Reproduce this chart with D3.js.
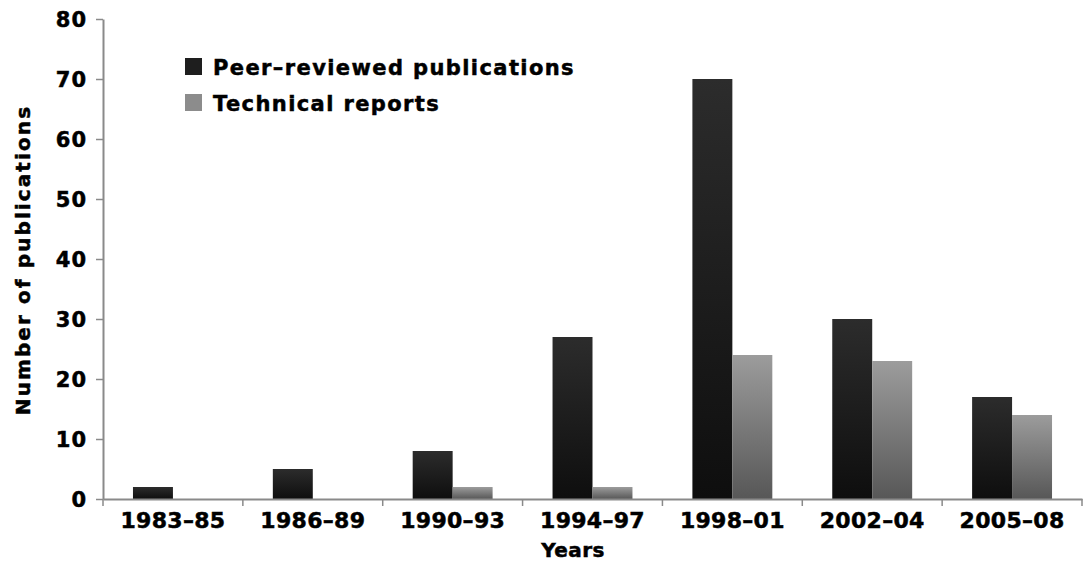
<!DOCTYPE html>
<html>
<head>
<meta charset="utf-8">
<script src="https://cdn.jsdelivr.net/npm/d3@7"></script>
<style>
  html, body { margin: 0; padding: 0; background: #fff; }
  svg { display: block; font-family: "DejaVu Sans", sans-serif; font-weight: bold; }
  svg text { stroke: #000; stroke-width: 0.5px; paint-order: stroke; }
</style>
</head>
<body>
<div id="chart"></div>
<script>
const periods = ["1983–85", "1986–89", "1990–93", "1994–97", "1998–01", "2002–04", "2005–08"];
const seriesNames = ["Peer–reviewed publications", "Technical reports"];
const peerReviewed = [2, 5, 8, 27, 70, 30, 17];
const technicalReports = [0, 0, 2, 2, 24, 23, 14];
const yTicks = [0, 10, 20, 30, 40, 50, 60, 70, 80];

const width = 1085, height = 561;
const margin = { top: 19, right: 3, bottom: 62, left: 103 };
const innerW = width - margin.left - margin.right;
const innerH = height - margin.top - margin.bottom;

const svg = d3.select("#chart").append("svg")
    .attr("width", width)
    .attr("height", height);

// vertical gradients for the bars
const defs = svg.append("defs");
const gradients = [
    { id: "gradDark", top: "#2c2c2c", bottom: "#0e0e0e" },
    { id: "gradGray", top: "#9c9c9c", bottom: "#575757" }
];
gradients.forEach(g => {
    const lg = defs.append("linearGradient")
        .attr("id", g.id)
        .attr("x1", 0).attr("y1", 0).attr("x2", 0).attr("y2", 1);
    lg.append("stop").attr("offset", "0%").attr("stop-color", g.top);
    lg.append("stop").attr("offset", "100%").attr("stop-color", g.bottom);
});

const g = svg.append("g").attr("transform", `translate(${margin.left},${margin.top})`);

const x0 = d3.scaleBand().domain(periods).range([0, innerW]).padding(0);
const x1 = d3.scaleBand().domain(seriesNames).range([0, x0.bandwidth()]).paddingInner(0).paddingOuter(0.75);
const y = d3.scaleLinear().domain([0, 80]).range([innerH, 0]);
const fill = d3.scaleOrdinal().domain(seriesNames).range(["url(#gradDark)", "url(#gradGray)"]);

const rows = periods.map((p, i) => ({
    period: p,
    values: [
        { key: seriesNames[0], value: peerReviewed[i] },
        { key: seriesNames[1], value: technicalReports[i] }
    ]
}));

// bars
g.selectAll("g.group")
    .data(rows)
    .enter().append("g")
    .attr("class", "group")
    .attr("transform", d => `translate(${x0(d.period)},0)`)
    .selectAll("rect")
    .data(d => d.values.filter(v => v.value > 0))
    .enter().append("rect")
    .attr("x", d => x1(d.key))
    .attr("width", x1.bandwidth())
    .attr("y", d => y(d.value))
    .attr("height", d => y(0) - y(d.value))
    .attr("fill", d => fill(d.key));

// y axis
const yAxis = g.append("g")
    .call(d3.axisLeft(y).tickValues(yTicks).tickSize(7).tickSizeOuter(0).tickPadding(9));
yAxis.select(".domain").attr("stroke", "#8a8a8a").attr("stroke-width", 2);
yAxis.selectAll(".tick line").attr("stroke", "#8a8a8a").attr("stroke-width", 1.5);
yAxis.selectAll(".tick text")
    .attr("fill", "#000")
    .style("font-family", "'DejaVu Sans', sans-serif")
    .style("font-weight", "bold")
    .style("font-size", "21px")
    .style("letter-spacing", "1px")
    .attr("dy", "0.36em");

// x axis: labels at band centres, ticks at band edges
const xAxis = g.append("g")
    .attr("transform", `translate(0,${innerH})`)
    .call(d3.axisBottom(x0).tickSize(0).tickSizeOuter(0));
xAxis.select(".domain").attr("stroke", "#8a8a8a").attr("stroke-width", 2);
xAxis.selectAll(".tick text")
    .attr("fill", "#000")
    .attr("y", 29)
    .attr("dy", 0)
    .style("font-family", "'DejaVu Sans', sans-serif")
    .style("font-weight", "bold")
    .style("font-size", "22px")
    .style("letter-spacing", "0.3px");

const edges = periods.map(p => x0(p)).concat([x0.range()[1]]);
xAxis.selectAll("line.edge")
    .data(edges)
    .enter().append("line")
    .attr("class", "edge")
    .attr("x1", d => d).attr("x2", d => d)
    .attr("y1", 0).attr("y2", 7)
    .attr("stroke", "#8a8a8a")
    .attr("stroke-width", 1.5);

// axis titles
svg.append("text")
    .attr("x", 573)
    .attr("y", 557)
    .attr("text-anchor", "middle")
    .style("font-size", "20px")
    .style("letter-spacing", "0.4px")
    .text("Years");

svg.append("text")
    .attr("transform", "translate(30,260) rotate(-90)")
    .attr("text-anchor", "middle")
    .style("font-size", "20px")
    .style("letter-spacing", "2.1px")
    .text("Number of publications");

// legend
const legendFill = d3.scaleOrdinal().domain(seriesNames).range(["#1e1e1e", "#8c8c8c"]);
const legend = svg.append("g").attr("transform", "translate(185,58)");
const item = legend.selectAll("g.item")
    .data(seriesNames)
    .enter().append("g")
    .attr("class", "item")
    .attr("transform", (d, i) => `translate(0,${i * 36})`);
item.append("rect")
    .attr("width", 17).attr("height", 17)
    .attr("fill", d => legendFill(d));
item.append("text")
    .attr("x", 28)
    .attr("y", 17)
    .style("font-size", "21px")
    .style("letter-spacing", "1.4px")
    .text(d => d);
</script>
</body>
</html>
